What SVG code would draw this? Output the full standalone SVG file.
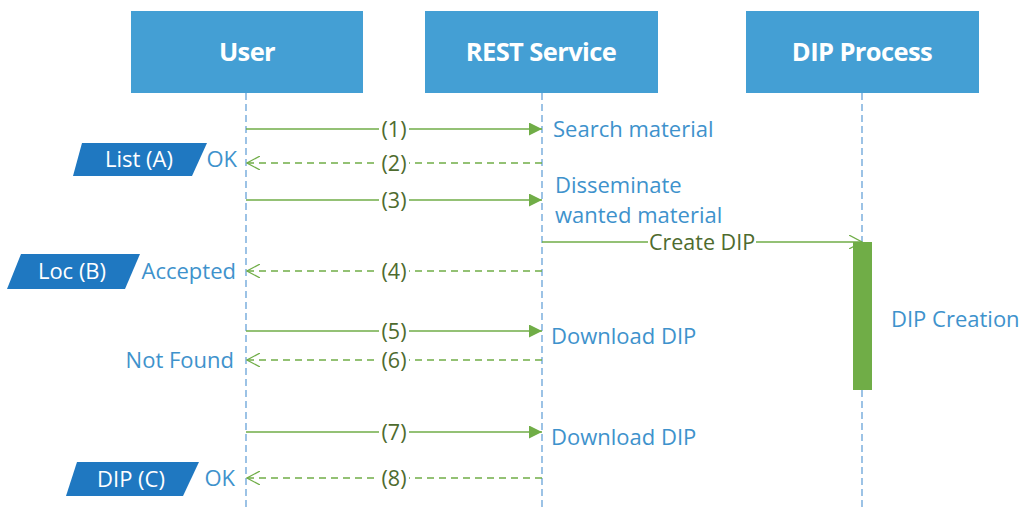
<svg xmlns="http://www.w3.org/2000/svg" width="1024" height="521" viewBox="0 0 1024 521">
<defs>
<style>
.hdr{fill:#449fd4}
.hdrt{font-family:"Open Sans","Noto Sans",sans-serif;font-weight:bold;font-size:25.5px;fill:#fff;text-anchor:middle;letter-spacing:-0.6px}
.life{stroke:#5b9bd5;stroke-width:1.2;stroke-dasharray:7 4;fill:none}
.msg{stroke:#70ad47;stroke-width:1.3;fill:none}
.ret{stroke:#70ad47;stroke-width:1.3;fill:none;stroke-dasharray:7 5}
.num{font-family:"Open Sans","Noto Sans",sans-serif;font-size:21.5px;fill:#4e6b2e;text-anchor:middle}
.lbl{font-family:"Open Sans","Noto Sans",sans-serif;font-size:22px;fill:#3e92cc}
.tag{fill:#1f78c1}
.tagt{font-family:"Open Sans","Noto Sans",sans-serif;font-size:22px;fill:#fff;text-anchor:middle}
</style>
<marker id="fill" viewBox="0 0 12 12" refX="12" refY="6" markerWidth="13" markerHeight="13" markerUnits="userSpaceOnUse" orient="auto">
<path d="M0,0 L12,6 L0,12 Z" fill="#70ad47"/>
</marker>
<marker id="open" viewBox="0 0 14 14" refX="13" refY="7" markerWidth="14" markerHeight="14" markerUnits="userSpaceOnUse" orient="auto">
<path d="M0,0 L13,7 L0,14" fill="none" stroke="#70ad47" stroke-width="1.2"/>
</marker>
</defs>
<rect width="1024" height="521" fill="#fff"/>
<g id="user">
<rect class="hdr" x="131" y="11" width="232" height="82"/>
<text class="hdrt" x="247" y="61">User</text>
<line class="life" x1="246" y1="93" x2="246" y2="510"/>
</g>
<g id="rest">
<rect class="hdr" x="425" y="11" width="233" height="82"/>
<text class="hdrt" x="541" y="61">REST Service</text>
<line class="life" x1="542" y1="93" x2="542" y2="510"/>
</g>
<g id="dip">
<rect class="hdr" x="746" y="11" width="233" height="82"/>
<text class="hdrt" x="862" y="61">DIP Process</text>
<line class="life" x1="862" y1="93" x2="862" y2="510"/>
</g>
<g id="activation">
<rect x="853" y="242" width="19" height="148" fill="#70ad47"/>
<text class="lbl" x="891" y="327">DIP Creation</text>
</g>
<g id="connectors">
<line class="msg" x1="246" y1="129" x2="542" y2="129" marker-end="url(#fill)"/>
<line class="ret" x1="542" y1="163" x2="247" y2="163" marker-end="url(#open)"/>
<line class="msg" x1="246" y1="200" x2="542" y2="200" marker-end="url(#fill)"/>
<line class="msg" x1="542" y1="242" x2="862" y2="242" marker-end="url(#open)"/>
<line class="ret" x1="542" y1="271" x2="247" y2="271" marker-end="url(#open)"/>
<line class="msg" x1="246" y1="331" x2="542" y2="331" marker-end="url(#fill)"/>
<line class="ret" x1="542" y1="360" x2="247" y2="360" marker-end="url(#open)"/>
<line class="msg" x1="246" y1="432" x2="542" y2="432" marker-end="url(#fill)"/>
<line class="ret" x1="542" y1="478" x2="247" y2="478" marker-end="url(#open)"/>
<g>
<rect x="379" y="117" width="30" height="24" fill="#fff"/><text class="num" x="394" y="137">(1)</text>
<rect x="379" y="151" width="30" height="24" fill="#fff"/><text class="num" x="394" y="171">(2)</text>
<rect x="379" y="188" width="30" height="24" fill="#fff"/><text class="num" x="394" y="208">(3)</text>
<rect x="648" y="230" width="108" height="24" fill="#fff"/><text class="num" x="702" y="250">Create DIP</text>
<rect x="379" y="259" width="30" height="24" fill="#fff"/><text class="num" x="394" y="279">(4)</text>
<rect x="379" y="319" width="30" height="24" fill="#fff"/><text class="num" x="394" y="339">(5)</text>
<rect x="379" y="348" width="30" height="24" fill="#fff"/><text class="num" x="394" y="368">(6)</text>
<rect x="379" y="420" width="30" height="24" fill="#fff"/><text class="num" x="394" y="440">(7)</text>
<rect x="379" y="466" width="30" height="24" fill="#fff"/><text class="num" x="394" y="486">(8)</text>
</g>
</g>
<g id="labels">
<text class="lbl" x="553" y="137">Search material</text>
<text class="lbl" x="555" y="193">Disseminate</text>
<text class="lbl" x="555" y="223">wanted material</text>
<text class="lbl" x="551" y="344">Download DIP</text>
<text class="lbl" x="551" y="445">Download DIP</text>
<text class="lbl" x="237" y="167" text-anchor="end">OK</text>
<text class="lbl" x="236" y="279" text-anchor="end">Accepted</text>
<text class="lbl" x="234" y="368" text-anchor="end">Not Found</text>
<text class="lbl" x="235" y="486" text-anchor="end">OK</text>
</g>
<g id="tagA">
<polygon class="tag" points="82,143 207,143 192,176 73,176"/>
<text class="tagt" x="139" y="167">List (A)</text>
</g>
<g id="tagB">
<polygon class="tag" points="21,254 140,254 125,289 7,289"/>
<text class="tagt" x="72" y="279">Loc (B)</text>
</g>
<g id="tagC">
<polygon class="tag" points="77,462 199,462 183,496 66,496"/>
<text class="tagt" x="131" y="487">DIP (C)</text>
</g>
</svg>
